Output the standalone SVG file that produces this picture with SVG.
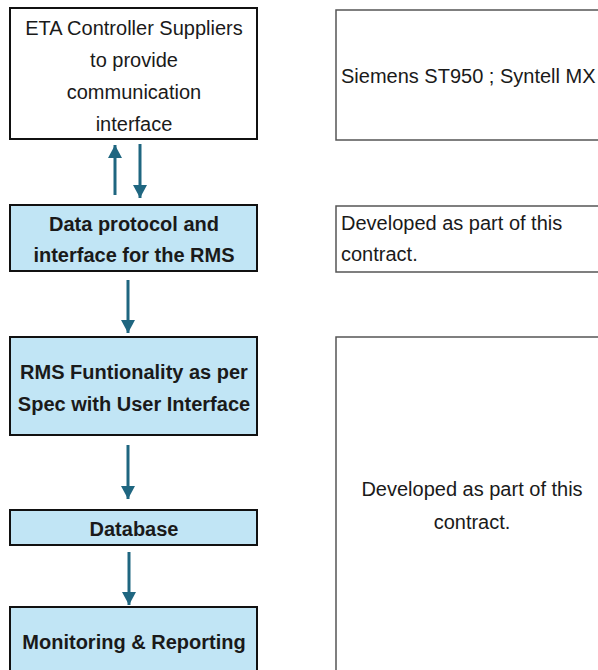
<svg xmlns="http://www.w3.org/2000/svg" width="598" height="670" viewBox="0 0 598 670">
<defs>
<style>
.lbox{stroke:#111;stroke-width:2;}
.white{fill:#fff;}
.blue{fill:#c1e5f5;}
.rbox{fill:#fff;stroke:#555;stroke-width:1.5;}
.t{font-family:"Liberation Sans",Arial,sans-serif;font-size:20px;fill:#1a1a1a;}
.b{font-weight:bold;}
.c{text-anchor:middle;}
.arr{stroke:#1f6680;stroke-width:3;fill:none;marker-end:url(#ah);}
</style>
<marker id="ah" markerUnits="userSpaceOnUse" markerWidth="14" markerHeight="14" refX="13" refY="7" orient="auto">
<path d="M0,0 L13,7 L0,14 z" fill="#1f6680"/>
</marker>
</defs>
<rect width="598" height="670" fill="#fff"/>

<g id="n1">
<rect class="lbox white" x="10" y="8" width="247" height="131"/>
<text class="t c" x="134" y="35">ETA Controller Suppliers</text>
<text class="t c" x="134" y="67">to provide</text>
<text class="t c" x="134" y="99">communication</text>
<text class="t c" x="134" y="131">interface</text>
</g>
<g id="n2">
<rect class="lbox blue" x="10" y="205" width="247" height="66"/>
<text class="t b c" x="134" y="231">Data protocol and</text>
<text class="t b c" x="134" y="262">interface for the RMS</text>
</g>
<g id="n3">
<rect class="lbox blue" x="10" y="337" width="247" height="98"/>
<text class="t b c" x="134" y="379">RMS Funtionality as per</text>
<text class="t b c" x="134" y="411">Spec with User Interface</text>
</g>
<g id="n4">
<rect class="lbox blue" x="10" y="510" width="247" height="35"/>
<text class="t b c" x="134" y="536">Database</text>
</g>
<g id="n5">
<rect class="lbox blue" x="10" y="607" width="247" height="80"/>
<text class="t b c" x="134" y="649">Monitoring &amp; Reporting</text>
</g>

<g id="r1">
<rect class="rbox" x="336" y="10" width="280" height="130"/>
<text class="t" x="341" y="83">Siemens ST950 ; Syntell MX</text>
</g>
<g id="r2">
<rect class="rbox" x="336" y="206" width="280" height="66"/>
<text class="t" x="341" y="230">Developed as part of this</text>
<text class="t" x="341" y="261">contract.</text>
</g>
<g id="r3">
<rect class="rbox" x="336" y="337" width="280" height="350"/>
<text class="t c" x="472" y="496">Developed as part of this</text>
<text class="t c" x="472" y="529">contract.</text>
</g>

<g id="connectors">
<line class="arr" x1="115" y1="195" x2="115" y2="145"/>
<line class="arr" x1="140" y1="144" x2="140" y2="198"/>
<line class="arr" x1="128" y1="280" x2="128" y2="333"/>
<line class="arr" x1="128" y1="445" x2="128" y2="499"/>
<line class="arr" x1="129" y1="552" x2="129" y2="605"/>
</g>
</svg>
